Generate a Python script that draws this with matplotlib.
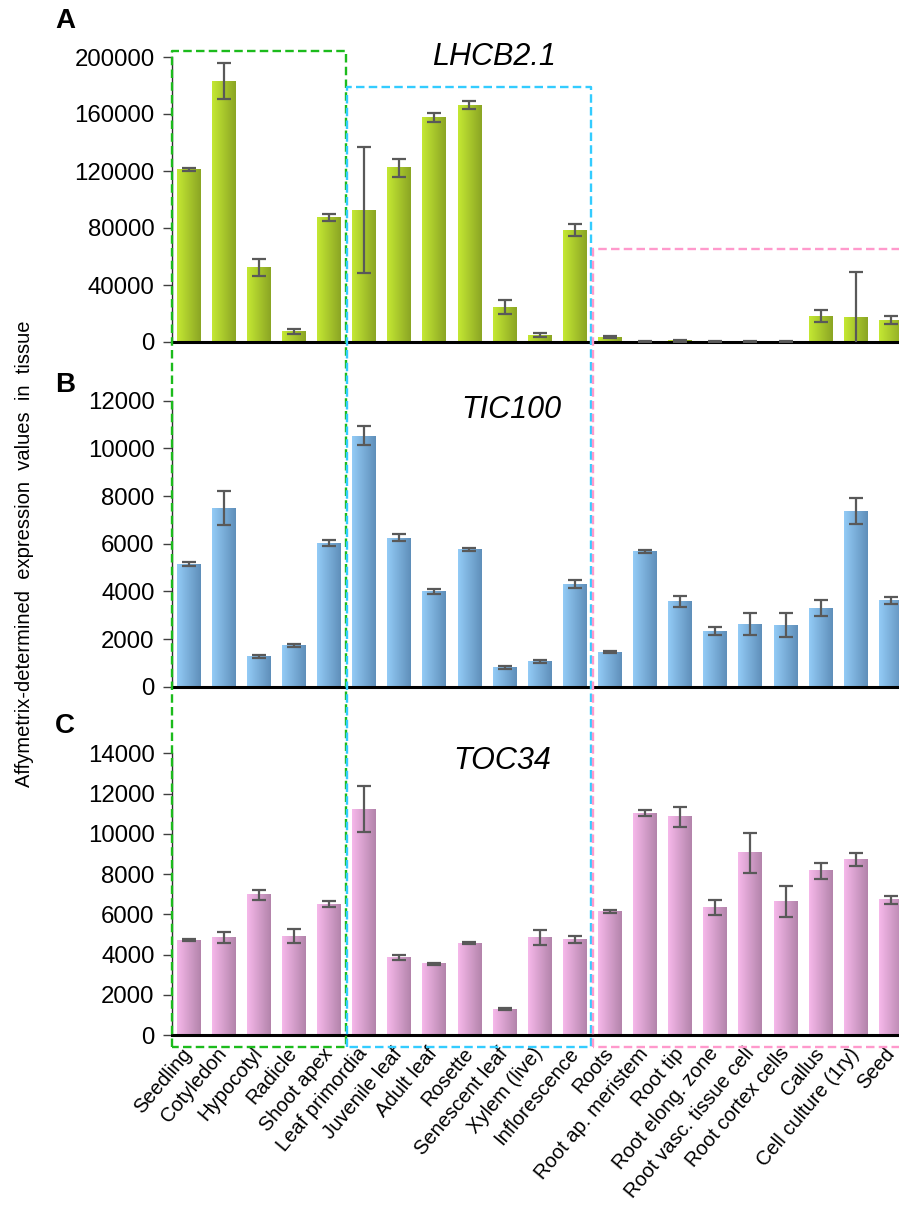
import numpy as np
import matplotlib
matplotlib.use("Agg")
import matplotlib.pyplot as plt
from matplotlib.colors import LinearSegmentedColormap
from matplotlib.lines import Line2D
from matplotlib.ticker import MultipleLocator

plt.rcParams['font.family'] = ['Liberation Sans', 'DejaVu Sans']

# Tissues (x axis)
tissues = ["Seedling", "Cotyledon", "Hypocotyl", "Radicle", "Shoot apex",
           "Leaf primordia", "Juvenile leaf", "Adult leaf", "Rosette",
           "Senescent leaf", "Xylem (live)", "Inflorescence", "Roots",
           "Root ap. meristem", "Root tip", "Root elong. zone",
           "Root vasc. tissue cell", "Root cortex cells", "Callus",
           "Cell culture (1ry)", "Seed"]

# A - LHCB2.1
lhcb_vals = [121000, 183000, 52000, 7300, 87300, 92600, 122300, 157500, 166300,
             24300, 4700, 78500, 3500, 500, 800, 300, 300, 300, 18200, 17100, 15400]
lhcb_err = [1000, 12700, 6000, 1600, 2300, 44000, 6200, 3300, 3000,
            5000, 1300, 4000, 600, 300, 500, 200, 200, 200, 4000, 32000, 3000]

# B - TIC100
tic_vals = [5140, 7490, 1260, 1740, 6040, 10530, 6250, 3990, 5770,
            810, 1050, 4310, 1460, 5670, 3570, 2340, 2640, 2590, 3290, 7370, 3630]
tic_err = [80, 720, 50, 70, 130, 400, 150, 120, 70,
           50, 70, 160, 40, 70, 220, 150, 450, 500, 330, 560, 140]

# C - TOC34
toc_vals = [4720, 4860, 6960, 4920, 6510, 11230, 3840, 3530, 4560,
            1290, 4860, 4740, 6130, 11020, 10850, 6330, 9060, 6640, 8170, 8730, 6710]
toc_err = [50, 280, 270, 330, 130, 1160, 120, 60, 50,
           50, 380, 180, 60, 140, 500, 380, 1000, 780, 400, 330, 200]

W, H = 899, 1215
fig = plt.figure(figsize=(W / 100, H / 100), dpi=100)

x = np.arange(len(tissues))
bar_w = 0.68
grad = np.linspace(0, 1, 64).reshape(1, -1)


def panel(rect, vals, errs, ymax, step, c_light, c_dark, gene, gx, gy):
    ax = fig.add_axes(rect)
    cmap = LinearSegmentedColormap.from_list("g", [c_light, c_dark])
    bars = ax.bar(x, vals, width=bar_w, color='none', edgecolor='none', zorder=2)
    for b in bars:
        x0, w, h = b.get_x(), b.get_width(), b.get_height()
        ax.imshow(grad, cmap=cmap, extent=(x0, x0 + w, 0, h), aspect='auto',
                  interpolation='bilinear', zorder=2)
    ax.errorbar(x, vals, yerr=errs, fmt='none', ecolor='#595959',
                elinewidth=1.6, capsize=4.8, capthick=1.6, zorder=3)
    ax.set_xlim(-0.47, 20.23)
    ax.set_ylim(0, ymax)
    ax.yaxis.set_major_locator(MultipleLocator(step))
    ax.tick_params(axis='y', labelsize=17.3, length=6.5, width=1, color='#404040', pad=6)
    ax.tick_params(axis='x', length=0)
    for s in ['top', 'right']:
        ax.spines[s].set_visible(False)
    ax.spines['left'].set_color('#303030')
    ax.spines['left'].set_linewidth(1.0)
    ax.spines['bottom'].set_color('black')
    ax.spines['bottom'].set_linewidth(2.2)
    ax.text(gx, gy, gene, style='italic', fontsize=22, ha='center', va='baseline')
    return ax


axA = panel([172 / W, 1 - 342 / H, (W - 172) / W, 285 / H], lhcb_vals, lhcb_err,
            200000, 40000, '#c4e833', '#8ba524', 'LHCB2.1', 8.7, 194400)
axA.set_xticks(x, [''] * len(x))
axB = panel([172 / W, 1 - 686.7 / H, (W - 172) / W, 286 / H], tic_vals, tic_err,
            12000, 2000, '#93cbf6', '#5f8fba', 'TIC100', 9.2, 11280)
axB.set_xticks(x, [''] * len(x))
axC = panel([172 / W, 1 - 1035 / H, (W - 172) / W, 281.7 / H], toc_vals, toc_err,
            14000, 2000, '#f6b8ea', '#b384ab', 'TOC34', 8.93, 13220)
axC.set_xticks(x, tissues, rotation=50, ha='right', va='center',
               rotation_mode='anchor', fontsize=14.5)
axC.tick_params(axis='x', pad=11)


def fxy(ax, px, py):
    return fig.transFigure.inverted().transform(ax.transData.transform((px, py)))


def dashed_box(x0, x1, top, bottom, color):
    tl = fxy(axA, x0, top)
    tr = fxy(axA, x1, top)
    bl = fxy(axC, x0, bottom)
    br = fxy(axC, x1, bottom)
    xs = [bl[0], tl[0], tr[0], br[0], bl[0]]
    ys = [bl[1], tl[1], tr[1], br[1], bl[1]]
    fig.add_artist(Line2D(xs, ys, transform=fig.transFigure, color=color,
                          linewidth=1.7, dashes=(3.6, 1.8), clip_on=False, zorder=5))


dashed_box(-0.48, 4.48, 204000, -600, '#1cbb1c')
dashed_box(4.52, 11.45, 179000, -600, '#33ccff')
dashed_box(11.51, 20.8, 65000, -600, '#ff99cc')

fig.text(55 / W, 1 - 28 / H, 'A', fontsize=20, fontweight='bold', va='baseline')
fig.text(55 / W, 1 - 392 / H, 'B', fontsize=20, fontweight='bold', va='baseline')
fig.text(55 / W, 1 - 733 / H, 'C', fontsize=20, fontweight='bold', va='baseline')

fig.text(25 / W, 1 - 554 / H, 'Affymetrix-determined  expression  values  in  tissue',
         rotation=90, fontsize=14.5, ha='center', va='center')

fig.savefig('out.png', dpi=100)
